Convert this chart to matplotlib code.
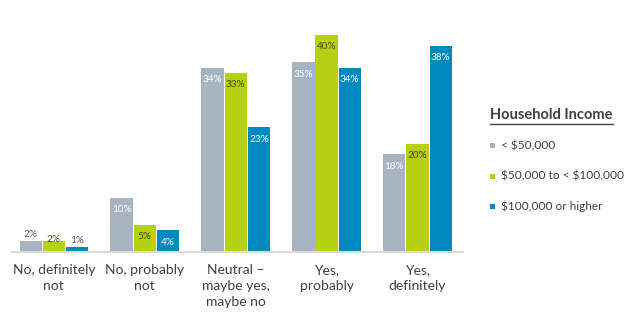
import matplotlib
matplotlib.use("Agg")
import matplotlib.pyplot as plt
import numpy as np
from matplotlib.patches import Rectangle
from matplotlib.lines import Line2D

plt.rcParams['font.family'] = ['Lato', 'DejaVu Sans']
plt.rcParams['text.parse_math'] = False

categories = ["No, definitely\nnot", "No, probably\nnot", "Neutral \u2013\nmaybe yes,\nmaybe no",
              "Yes,\nprobably", "Yes,\ndefinitely"]
series_names = ["< $50,000", "$50,000 to < $100,000", "$100,000 or higher"]
under_50k = [2, 10, 34, 35, 18]
mid_50_100k = [2, 5, 33, 40, 20]
over_100k = [1, 4, 23, 34, 38]
legend_title = "Household Income"

series = [under_50k, mid_50_100k, over_100k]
colors = ["#A7B3BF", "#B6D014", "#0089BF"]
inside_text = ["white", "#4A4A1A", "white"]
outside_text = ["#595959", "#4A4A1A", "#595959"]

W, H = 629, 322
fig = plt.figure(figsize=(W / 100, H / 100), dpi=100)
ax = fig.add_axes([12 / W, (H - 252) / H, (463 - 12) / W, (252 - 35) / H])

x = np.arange(len(categories))
bw = 0.245
offsets = [-0.255, 0, 0.255]
for s, vals in enumerate(series):
    ax.bar(x + offsets[s], vals, width=bw, color=colors[s], edgecolor='none', zorder=2)
    for xi, v in zip(x + offsets[s], vals):
        if v >= 4:
            ax.annotate(f"{v}%", (xi, v), xytext=(0, -8.6), textcoords='offset points',
                        ha='center', va='center', fontsize=7.2, color=inside_text[s])
        else:
            ax.annotate(f"{v}%", (xi, v), xytext=(0, 4.5 if s != 1 else 1.5), textcoords='offset points',
                        ha='center', va='center', fontsize=7.2, color=outside_text[s])

ax.set_xlim(-0.46, 4.5)
ax.set_ylim(0, 40)
ax.set_xticks(x)
ax.set_xticklabels(categories, fontsize=10, color="#404040", linespacing=1.4)
ax.tick_params(axis='x', length=0, pad=9)
ax.set_yticks([])
for sp in ['top', 'right', 'left']:
    ax.spines[sp].set_visible(False)
ax.spines['bottom'].set_color("#D9D9D9")
ax.spines['bottom'].set_linewidth(1.5)

# Legend (manual)
title = fig.text(490 / W, 1 - 115 / H, legend_title, fontsize=10.5, fontweight='bold',
                 color="#404040", ha='left', va='center')
fig.canvas.draw()
bb = title.get_window_extent()
fig.add_artist(Line2D([bb.x0 / W, bb.x1 / W], [1 - 124 / H, 1 - 124 / H],
                      color="#404040", linewidth=1.0, transform=fig.transFigure))
item_y = [146, 176, 206]
for name, col, yy in zip(series_names, colors, item_y):
    fig.add_artist(Rectangle((490 / W, 1 - (yy + 2.5) / H), 5 / W, 5 / H,
                             facecolor=col, edgecolor='none', transform=fig.transFigure))
    fig.text(501 / W, 1 - yy / H, name, fontsize=8.6, color="#404040", ha='left', va='center')

fig.savefig("out.png", dpi=100)
